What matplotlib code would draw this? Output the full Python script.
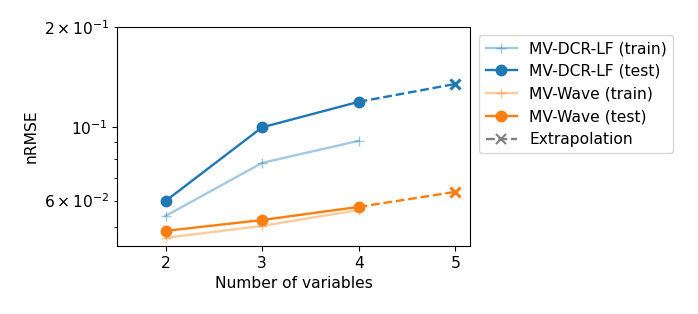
import matplotlib
matplotlib.use("Agg")
import matplotlib.pyplot as plt

# data
n_vars = [2, 3, 4]
n_extra = [4, 5]
dcr_train = [0.0539, 0.0779, 0.0908]
dcr_test = [0.0598, 0.0997, 0.119]
dcr_extra = [0.119, 0.1347]
wave_train = [0.0463, 0.0503, 0.0562]
wave_test = [0.0486, 0.0524, 0.0574]
wave_extra = [0.0574, 0.0637]

blue = "tab:blue"
orange = "tab:orange"

plt.rcParams['font.size'] = 11.2
plt.rcParams['lines.linewidth'] = 1.7
plt.rcParams['lines.markersize'] = 7.5

fig = plt.figure(figsize=(6.98, 3.14), dpi=100)
ax = fig.add_axes([0.168, 0.217, 0.505, 0.697])

ax.plot(n_vars, dcr_train, marker="+", color=blue, alpha=0.4, label="MV-DCR-LF (train)")
ax.plot(n_vars, dcr_test, marker="o", color=blue, label="MV-DCR-LF (test)")
ax.plot(n_vars, wave_train, marker="+", color=orange, alpha=0.4, label="MV-Wave (train)")
ax.plot(n_vars, wave_test, marker="o", color=orange, label="MV-Wave (test)")
ax.plot(n_extra, dcr_extra, "--", color=blue, marker="x", markevery=[1], mew=2.2)
ax.plot(n_extra, wave_extra, "--", color=orange, marker="x", markevery=[1], mew=2.2)
ax.plot([], [], "--", color="gray", marker="x", mew=1.5, label="Extrapolation")

ax.set_yscale("log")
ax.set_ylim(0.0438, 0.2)
ax.set_xlim(1.5, 5.15)
ax.set_xticks([2, 3, 4, 5])
ax.set_xlabel("Number of variables")
ax.set_ylabel("nRMSE")
ax.legend(loc="upper left", bbox_to_anchor=(1.005, 1.0))

fig.savefig("out.png", dpi=100)
